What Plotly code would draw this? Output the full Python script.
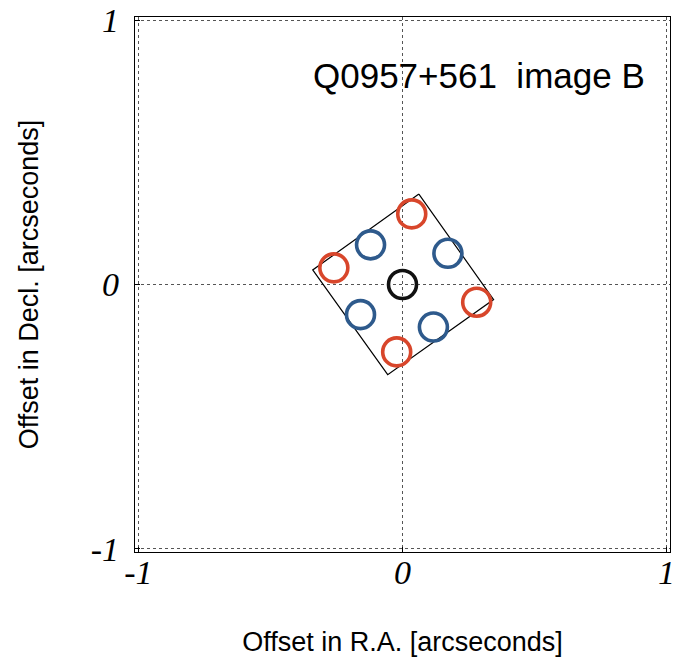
import plotly.graph_objects as go

# Data (offsets in arcseconds)
red_x = [0.035, -0.260, 0.281, -0.022]
red_y = [0.267, 0.063, -0.067, -0.255]
blue_x = [-0.121, 0.172, -0.159, 0.117]
blue_y = [0.150, 0.118, -0.114, -0.161]
center_x = [0.0]
center_y = [0.0]
square_x = [0.062, 0.345, -0.056, -0.340, 0.062]
square_y = [0.342, -0.057, -0.341, 0.055, 0.342]
tick_vals = [-1, 0, 1]
tick_text = ["-1", "0", "1"]

fig = go.Figure()
fig.add_trace(go.Scatter(x=square_x, y=square_y, mode="lines",
                         line=dict(color="black", width=1.2), hoverinfo="skip"))
fig.add_trace(go.Scatter(x=red_x, y=red_y, mode="markers",
                         marker=dict(symbol="circle-open", size=28, color="#d8462b",
                                     line=dict(width=3.6, color="#d8462b"))))
fig.add_trace(go.Scatter(x=blue_x, y=blue_y, mode="markers",
                         marker=dict(symbol="circle-open", size=28, color="#2e5a8c",
                                     line=dict(width=3.6, color="#2e5a8c"))))
fig.add_trace(go.Scatter(x=center_x, y=center_y, mode="markers",
                         marker=dict(symbol="circle-open", size=28, color="#111111",
                                     line=dict(width=3.6, color="#111111"))))

tickfont = dict(family="Liberation Serif", size=34, color="black", style="italic")
axis_common = dict(
    tickvals=tick_vals, ticktext=tick_text, tickfont=tickfont,
    showgrid=True, gridcolor="#555555", griddash="dot", gridwidth=1.2,
    zeroline=False, showline=True, linecolor="black", linewidth=1.2, mirror=True,
    ticks="inside", ticklen=5, tickcolor="black", automargin=False,
)
fig.update_xaxes(range=[-1.013, 1.013], ticklabelstandoff=-10,
                 title=dict(text="Offset in R.A. [arcseconds]", standoff=42,
                            font=dict(family="Liberation Sans", size=27, color="black")),
                 **axis_common)
fig.update_yaxes(range=[-1.012, 1.012], ticklabelstandoff=8,
                 title=dict(text="Offset in Decl. [arcseconds]", standoff=44,
                            font=dict(family="Liberation Sans", size=27, color="black")),
                 **axis_common)

fig.add_annotation(x=0.925, y=0.790, xref="x", yref="y", xanchor="right", yanchor="middle",
                   text="Q0957+561  image B", showarrow=False,
                   font=dict(family="Liberation Sans", size=35, color="black"))

fig.update_layout(
    width=684, height=662,
    margin=dict(l=135, r=14, t=17, b=110),
    plot_bgcolor="white", paper_bgcolor="white",
    showlegend=False,
)

fig.write_html("out.html")
